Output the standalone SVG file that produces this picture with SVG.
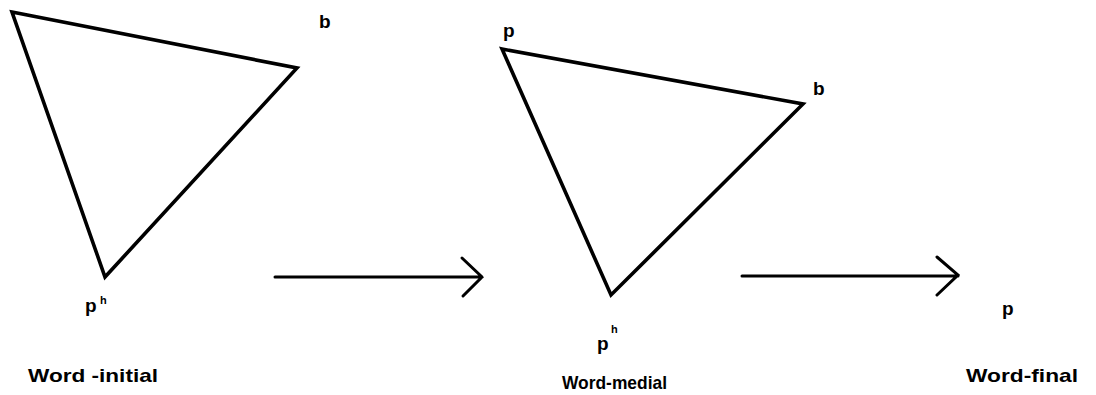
<svg xmlns="http://www.w3.org/2000/svg" width="1096" height="395" viewBox="0 0 1096 395">
<style>
.tri{fill:none;stroke:#000;stroke-width:3.6;stroke-linejoin:miter}
.arr{fill:none;stroke:#000;stroke-width:3;stroke-linecap:round;stroke-linejoin:miter}
.lbl{font-family:"Liberation Sans",Arial,sans-serif;font-size:19px;font-weight:bold;fill:#000}
.sup{font-family:"Liberation Sans",Arial,sans-serif;font-size:11px;font-weight:bold;fill:#000}
.cap{font-family:"Liberation Sans",Arial,sans-serif;font-size:19px;font-weight:bold;fill:#000}
</style>
<rect width="1096" height="395" fill="#fff"/>
<g id="initial">
<polygon class="tri" points="12,12 297,68 105,277"/>
<text class="lbl" x="319" y="28">b</text>
<text class="lbl" x="85" y="312">p</text>
<text class="sup" x="100" y="304">h</text>
<text class="cap" x="28" y="382" textLength="130" lengthAdjust="spacingAndGlyphs">Word -initial</text>
</g>
<g id="medial">
<polygon class="tri" points="502,49 803,104 611,295"/>
<text class="lbl" x="503" y="37">p</text>
<text class="lbl" x="813" y="95">b</text>
<text class="lbl" x="597" y="350">p</text>
<text class="sup" x="611" y="333">h</text>
<text class="cap" x="562" y="389" textLength="105" lengthAdjust="spacingAndGlyphs">Word-medial</text>
</g>
<g id="final">
<text class="lbl" x="1002" y="315">p</text>
<text class="cap" x="966" y="382" textLength="112" lengthAdjust="spacingAndGlyphs">Word-final</text>
</g>
<g id="connectors">
<path class="arr" d="M275,277 H482 M462,258 L482,277 L463,296"/>
<path class="arr" d="M742,276 H958 M937,257 L958,275 L937,295"/>
</g>
</svg>
